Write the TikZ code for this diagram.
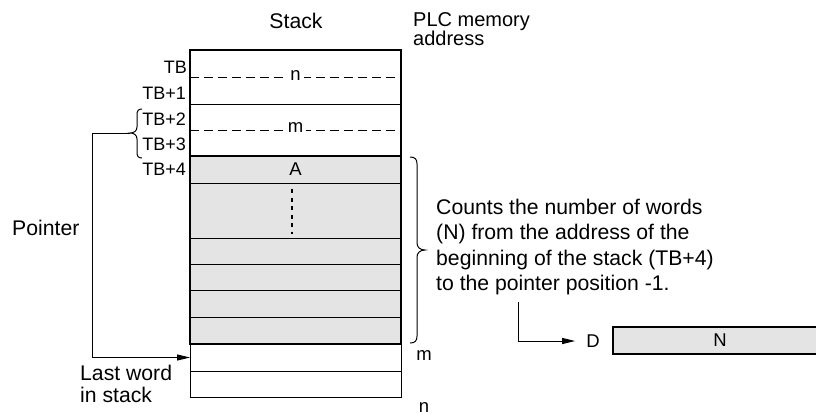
\documentclass[tikz,border=0pt]{standalone}
\usepackage{fontspec}
\setmainfont{Liberation Sans}
\usetikzlibrary{arrows.meta}
\definecolor{cellgray}{HTML}{E4E4E4}
\begin{document}
\begin{tikzpicture}[x=1pt,y=-1pt,
  txt/.style={inner sep=0pt,font=\fontsize{21.2}{22}\selectfont},
  small/.style={inner sep=0pt,font=\fontsize{18.5}{20}\selectfont},
  lbl/.style={inner sep=0pt,font=\fontsize{18}{20}\selectfont,anchor=east},
  stackrow/.style={draw,line width=1pt,minimum width=211pt,inner sep=0pt,outer sep=0pt},
  graycell/.style={stackrow,fill=cellgray},
  wline/.style={line width=1pt},
  arr/.style={line width=1pt,-{Triangle[length=13pt,width=6pt]}},
  dsh/.style={line width=1pt,dash pattern=on 8.5pt off 5.5pt}]
\useasboundingbox (0,0) rectangle (816,416);
% stack rows
\node[stackrow,minimum height=54pt] (t1) at (295.5,77) {};
\node[stackrow,minimum height=52pt] (t2) at (295.5,130) {};
\node[graycell,minimum height=27pt] (gA) at (295.5,169.5) {};
\node[graycell,minimum height=55pt] (gD) at (295.5,210.5) {};
\node[graycell,minimum height=26pt] (g3) at (295.5,251) {};
\node[graycell,minimum height=26pt] (g4) at (295.5,277) {};
\node[graycell,minimum height=27pt] (g5) at (295.5,303.5) {};
\node[graycell,minimum height=27pt] (g6) at (295.5,330.5) {};
\node[stackrow,minimum height=27pt] (w1) at (295.5,357.5) {};
\node[stackrow,minimum height=26pt] (w2) at (295.5,384) {};
% thick outlines
\draw[line width=2.4pt] (t1.north west) rectangle (t2.south east);
\draw[line width=1.6pt] (gA.north west) rectangle (g6.south east);
\draw[line width=1.6pt] (g6.south west) -- (g6.south east);
% dashed lines with labels
\draw[dsh] (t1.west) -- (t1.east);
\draw[dsh] (t2.west) -- (t2.east);
\node[small,fill=white,inner xsep=3pt,inner ysep=2pt] (ln) at (295.5,76) {n};
\node[small,fill=white,inner xsep=3pt,inner ysep=2pt] (lm) at (295.5,128) {m};
\node[small] (lA) at (295.5,169) {A};
\coordinate (dtop) at (292,189);
\coordinate (dbot) at (292,234);
\draw[line width=2pt,dash pattern=on 4pt off 4.5pt] (dtop) -- (dbot);
% titles
\node[txt] (stack) at (296,21) {Stack};
\node[txt,anchor=north west,align=left,font=\fontsize{20}{17}\selectfont] (plc) at (413,12) {PLC memory\\address};
% TB labels
\node[lbl] (tb0) at (187,67) {TB};
\node[lbl] (tb1) at (186,93) {TB+1};
\node[lbl] (tb2) at (186,119) {TB+2};
\node[lbl] (tb3) at (186,144) {TB+3};
\node[lbl] (tb4) at (186,169) {TB+4};
% left brace
\coordinate (ptip) at (130,133);
\draw[wline] (142,109) .. controls (138,109) and (137,111) .. (137,115) -- (137,127)
  .. controls (137,131) and (134,133) .. (ptip)
  .. controls (134,133) and (137,135) .. (137,139) -- (137,152)
  .. controls (137,156) and (138,158) .. (142,158);
\draw[arr] (ptip) -- ++(-38,0) |- (w1.west);
\node[txt,anchor=west] (ptr) at (12,228) {Pointer};
\node[txt,anchor=north west,align=left,font=\fontsize{21.2}{22}\selectfont] (last) at (80,365) {Last word\\in stack};
% right brace
\draw[wline] (410,157) .. controls (415,157) and (417,159) .. (417,164) -- (417,243)
  .. controls (417,247) and (420,250) .. (425,250)
  .. controls (420,250) and (417,253) .. (417,257) -- (417,336)
  .. controls (417,341) and (415,343) .. (410,343);
\node[txt,anchor=north west,align=left,font=\fontsize{21.2}{25.3}\selectfont] (cmt) at (436,199) {Counts the number of words\\(N) from the address of the\\beginning of the stack (TB+4)\\to the pointer position -1.};
\node[small] (rm) at (424,356) {m};
\node[small] (rn) at (424,408) {n};
% result
\node[small] (dl) at (593,341) {D};
\node[draw,line width=1.8pt,fill=cellgray,minimum width=217pt,minimum height=27pt,inner sep=0pt] (nbox) at (721.5,340.5) {};
\node[small] (nl) at (720,340) {N};
\coordinate (cstart) at (518,302);
\draw[arr] (cstart) |- ([xshift=-11pt]dl.west);
\end{tikzpicture}
\end{document}
